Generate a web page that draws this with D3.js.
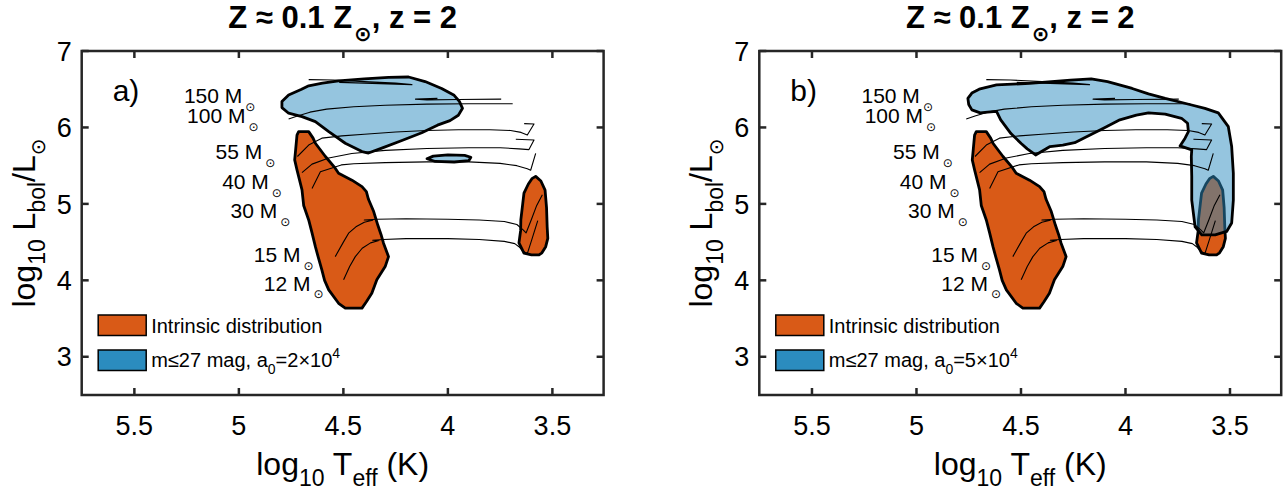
<!DOCTYPE html>
<html><head><meta charset="utf-8">
<script src="https://cdn.jsdelivr.net/npm/d3@7"></script>
<style>
body{margin:0;background:#fff}
svg text{font-family:"Liberation Sans",Arial,Helvetica,"DejaVu Sans",sans-serif;fill:#000}
</style></head><body>
<svg id="chart" width="1285" height="497"></svg>
<script>
// ---------- data ----------
const xTicks=[5.5,5,4.5,4,3.5];
const yTicks=[3,4,5,6,7];
const xDomain=[5.752,3.255];
const yDomain=[2.5,7];
const panelLetters=["a)","b)"];
const a0Values=["2","5"];
const massLabels=["150 M","100 M","55 M","40 M","30 M","15 M","12 M"];
const massLabelX=[5.263,5.248,5.112,5.080,5.040,4.929,4.881];
const massLabelY=[6.324,6.055,5.584,5.192,4.821,4.246,3.867];

const orangeMain=[[4.722,5.90],[4.714,5.945],[4.666,5.945],[4.645,5.86],[4.634,5.793],[4.586,5.62],[4.540,5.47],[4.523,5.40],[4.459,5.31],[4.411,5.226],[4.39,5.16],[4.38,5.06],[4.355,4.90],[4.335,4.72],[4.320,4.60],[4.308,4.486],[4.284,4.31],[4.30,4.18],[4.34,4.007],[4.364,3.83],[4.39,3.72],[4.411,3.637],[4.491,3.637],[4.523,3.70],[4.570,3.876],[4.590,4.00],[4.603,4.137],[4.620,4.30],[4.634,4.44],[4.650,4.62],[4.666,4.79],[4.690,4.98],[4.698,5.183],[4.722,5.444],[4.733,5.575],[4.728,5.72]];
const orangeRSG=[[3.58,5.36],[3.555,5.30],[3.535,5.18],[3.528,4.95],[3.525,4.70],[3.522,4.55],[3.532,4.44],[3.55,4.36],[3.564,4.333],[3.60,4.333],[3.636,4.355],[3.66,4.49],[3.652,4.65],[3.651,4.79],[3.642,5.0],[3.636,5.14],[3.615,5.26],[3.598,5.33]];
const blueA=[[4.794,6.34],[4.762,6.425],[4.70,6.50],[4.666,6.545],[4.60,6.58],[4.523,6.61],[4.40,6.635],[4.284,6.656],[4.188,6.66],[4.109,6.60],[4.03,6.51],[3.97,6.42],[3.945,6.34],[3.93,6.25],[3.95,6.16],[3.99,6.09],[4.05,6.03],[4.125,5.93],[4.22,5.83],[4.316,5.73],[4.38,5.665],[4.411,5.684],[4.491,5.793],[4.570,5.945],[4.634,6.076],[4.698,6.141],[4.762,6.186],[4.794,6.26]];
const blueAsmall=[[4.10,5.59],[4.07,5.625],[4.0,5.64],[3.92,5.635],[3.89,5.61],[3.90,5.565],[3.97,5.548],[4.06,5.555]];
const blueB=[[4.754,6.38],[4.735,6.45],[4.70,6.50],[4.617,6.556],[4.459,6.577],[4.263,6.62],[4.164,6.635],[4.086,6.60],[3.968,6.51],[3.89,6.44],[3.81,6.38],[3.693,6.30],[3.62,6.25],[3.556,6.19],[3.508,6.01],[3.492,5.75],[3.484,5.40],[3.484,5.05],[3.492,4.75],[3.516,4.64],[3.571,4.595],[3.635,4.595],[3.667,4.70],[3.683,5.05],[3.683,5.36],[3.685,5.62],[3.683,5.706],[3.739,5.758],[3.715,5.859],[3.699,5.945],[3.703,6.055],[3.732,6.12],[3.81,6.175],[3.89,6.19],[3.948,6.16],[4.027,6.10],[4.105,5.99],[4.184,5.88],[4.243,5.80],[4.30,5.77],[4.361,5.75],[4.43,5.64],[4.47,5.72],[4.499,5.79],[4.548,5.92],[4.597,6.10],[4.617,6.21],[4.66,6.20],[4.695,6.19],[4.735,6.23],[4.75,6.30]];

const track150=[[[4.666,6.625],[4.55,6.62],[4.40,6.60],[4.25,6.58],[4.172,6.56],[4.25,6.567],[4.40,6.58],[4.52,6.59]],
                [[4.05,6.38],[4.155,6.37],[4.10,6.36],[3.95,6.365],[3.745,6.37]]];
const track100=[[[4.762,6.11],[4.72,6.15],[4.66,6.20],[4.58,6.24],[4.45,6.27],[4.30,6.29],[4.10,6.305],[3.90,6.31],[3.69,6.31]]];
const track55=[[[4.72,5.62],[4.666,5.77],[4.603,5.86],[4.507,5.89],[4.40,5.91],[4.25,5.94],[4.10,5.96],[3.95,5.97],[3.80,5.97],[3.70,5.96],[3.65,5.935],[3.62,5.90],[3.588,6.045],[3.635,6.05]]];
const track40=[[[4.698,5.41],[4.65,5.52],[4.57,5.60],[4.46,5.66],[4.30,5.70],[4.10,5.725],[3.90,5.735],[3.75,5.735],[3.66,5.72],[3.612,5.71],[3.588,5.835],[3.675,5.845]]];
const track30=[[[4.65,5.20],[4.61,5.42],[4.51,5.51],[4.45,5.525],[4.30,5.54],[4.10,5.55],[3.90,5.55],[3.75,5.53],[3.67,5.50],[3.62,5.46],[3.604,5.44],[3.58,5.66]]];
const track15=[[[4.539,4.31],[4.50,4.50],[4.475,4.617],[4.44,4.70],[4.40,4.76],[4.36,4.785],[4.40,4.79],[4.34,4.80],[4.20,4.805],[4.00,4.80],[3.85,4.79],[3.73,4.77],[3.67,4.73],[3.64,4.66],[3.626,4.62],[3.60,4.80],[3.575,4.98],[3.548,5.12]]];
const track12=[[[4.499,4.007],[4.47,4.18],[4.443,4.31],[4.41,4.42],[4.37,4.49],[4.33,4.52],[4.36,4.525],[4.31,4.535],[4.20,4.545],[4.00,4.545],[3.85,4.535],[3.73,4.51],[3.68,4.48],[3.66,4.44],[3.64,4.38],[3.62,4.35],[3.60,4.52],[3.57,4.78]]];
const tracks=[track150,track100,track55,track40,track30,track15,track12];

// ---------- drawing ----------
const svg=d3.select("#chart");
const TOP=51,BOTTOM=395,PW=521.9;
const panelLeft=[81.7,759.3];
const ORANGE="#D95A17", BLUE="#2B8CBF";

function rich(sel,parts,size){
  let shift=0;
  parts.forEach(p=>{
    const ts=sel.append("tspan").text(p.t);
    const target=p.sub?size*p.sub:(p.sup?-size*p.sup:0);
    ts.attr("dy",target-shift); shift=target;
    if(p.fs) ts.attr("font-size",p.fs);
    if(p.dx) ts.attr("dx",p.dx);
  });
}

function drawPanel(i){
  const L=panelLeft[i];
  const x=d3.scaleLinear().domain(xDomain).range([L,L+PW]);
  const y=d3.scaleLinear().domain(yDomain).range([BOTTOM,TOP]);
  const g=svg.append("g");
  const poly=d3.line().x(d=>x(d[0])).y(d=>y(d[1])).curve(d3.curveLinearClosed);
  const line=d3.line().x(d=>x(d[0])).y(d=>y(d[1]));

  g.append("path").attr("d",poly(orangeMain)).attr("fill",ORANGE).attr("stroke","#000").attr("stroke-width",2.8).attr("stroke-linejoin","round");
  g.append("path").attr("d",poly(orangeRSG)).attr("fill",ORANGE).attr("stroke","#000").attr("stroke-width",2.8).attr("stroke-linejoin","round");
  const blues=i===0?[blueA,blueAsmall]:[blueB];
  blues.forEach(b=>g.append("path").attr("d",poly(b)).attr("fill",BLUE).attr("fill-opacity",0.5)
      .attr("stroke","#000").attr("stroke-width",2.8).attr("stroke-linejoin","round"));
  tracks.forEach(t=>t.forEach(seg=>g.append("path").attr("d",line(seg)).attr("fill","none")
      .attr("stroke","#000").attr("stroke-width",1.1).attr("stroke-linejoin","round")));

  // mass labels
  massLabels.forEach((m,k)=>{
    const t=g.append("text").attr("x",x(massLabelX[k])).attr("y",y(massLabelY[k])).attr("font-size",21);
    rich(t,[{t:m},{t:"\u2299",sub:0.38,fs:12,dx:3}],21);
  });
  // panel letter
  g.append("text").attr("x",L+31).attr("y",101).attr("font-size",30).text(panelLetters[i]);

  // legend
  const lg=g.append("g");
  lg.append("rect").attr("x",L+16.5).attr("y",315).attr("width",48).attr("height",20.5).attr("fill",ORANGE).attr("stroke","#000").attr("stroke-width",1.5);
  lg.append("rect").attr("x",L+16.5).attr("y",350).attr("width",48).attr("height",20.5).attr("fill",BLUE).attr("stroke","#000").attr("stroke-width",1.5);
  lg.append("text").attr("x",L+69.5).attr("y",333).attr("font-size",20).text("Intrinsic distribution");
  const lt=lg.append("text").attr("x",L+69.5).attr("y",367).attr("font-size",20);
  rich(lt,[{t:"m\u226427 mag, a"},{t:"0",sub:0.35,fs:14},{t:"="+a0Values[i]+"\u00d710"},{t:"4",sup:0.45,fs:14}],20);

  // axes box and ticks
  const ax=g.append("g").attr("stroke","#262626").attr("stroke-width",2.5).attr("fill","none");
  ax.append("rect").attr("x",L).attr("y",TOP).attr("width",PW).attr("height",BOTTOM-TOP);
  const TL=7;
  xTicks.forEach(v=>{
    ax.append("line").attr("x1",x(v)).attr("x2",x(v)).attr("y1",BOTTOM).attr("y2",BOTTOM-TL);
    ax.append("line").attr("x1",x(v)).attr("x2",x(v)).attr("y1",TOP).attr("y2",TOP+TL);
  });
  yTicks.forEach(v=>{
    ax.append("line").attr("x1",L).attr("x2",L+TL).attr("y1",y(v)).attr("y2",y(v));
    ax.append("line").attr("x1",L+PW).attr("x2",L+PW-TL).attr("y1",y(v)).attr("y2",y(v));
  });
  const tl=g.append("g").attr("fill","#262626");
  xTicks.forEach(v=>tl.append("text").attr("x",x(v)).attr("y",435).attr("text-anchor","middle").attr("font-size",27).text(String(v)));
  yTicks.forEach(v=>tl.append("text").attr("x",L-10).attr("y",y(v)).attr("dy","0.36em").attr("text-anchor","end").attr("font-size",27).text(String(v)));

  // axis labels
  const xl=g.append("text").attr("x",L+PW/2).attr("y",475).attr("text-anchor","middle").attr("font-size",32);
  rich(xl,[{t:"log"},{t:"10",sub:0.33,fs:23},{t:" T"},{t:"eff",sub:0.33,fs:23},{t:" (K)"}],32);
  const yl=g.append("text").attr("transform",`translate(${L-47},${(TOP+BOTTOM)/2}) rotate(-90)`).attr("text-anchor","middle").attr("font-size",32);
  rich(yl,[{t:"log"},{t:"10",sub:0.33,fs:23},{t:" L"},{t:"bol",sub:0.33,fs:23},{t:"/L"},{t:"\u2299",sub:0.33,fs:20}],32);

  // title
  const tt=g.append("text").attr("x",L+PW/2).attr("y",28).attr("text-anchor","middle").attr("font-size",31).attr("font-weight","bold");
  rich(tt,[{t:"Z \u2248 0.1 Z"},{t:"\u2299",sub:0.42,fs:21,dx:2},{t:", z = 2"}],31);
}
drawPanel(0);
drawPanel(1);
</script>
</body></html>
